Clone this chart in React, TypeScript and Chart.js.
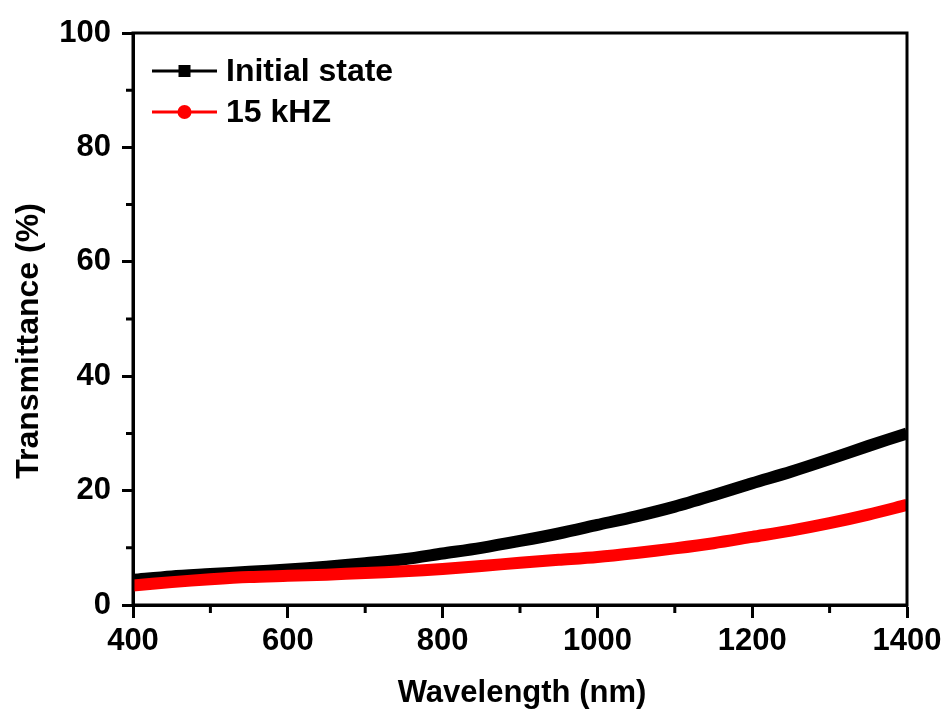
import React, { useEffect, useRef } from "react";
import { Chart, registerables } from "chart.js";

Chart.register(...registerables);

const wavelengths = [400, 450, 500, 550, 600, 650, 700, 750, 800, 850, 900, 950, 1000, 1050, 1100, 1150, 1200, 1250, 1300, 1350, 1400];
const initialState = [4.4, 5.0, 5.4, 5.8, 6.2, 6.7, 7.3, 8.0, 9.0, 10.0, 11.2, 12.5, 14.0, 15.5, 17.2, 19.2, 21.3, 23.3, 25.5, 27.8, 30.0];
const khz15 = [3.4, 4.0, 4.5, 4.9, 5.1, 5.3, 5.6, 5.9, 6.3, 6.8, 7.4, 7.9, 8.4, 9.1, 9.9, 10.8, 11.9, 13.0, 14.3, 15.8, 17.5];
const xMinorTicks = [500, 700, 900, 1100, 1300];
const yMinorTicks = [10, 30, 50, 70, 90];
const seriesNames = ["Initial state", "15 kHZ"];
const seriesColors = ["#000000", "#ff0000"];
const xTitle = "Wavelength (nm)";
const yTitle = "Transmittance (%)";

const FONT = '"Liberation Sans", Arial, sans-serif';

const decorPlugin = {
  id: "decor",
  afterDraw(chart: any) {
    const ctx = chart.ctx;
    const a = chart.chartArea;
    const xs = chart.scales.x;
    const ys = chart.scales.y;
    ctx.save();
    ctx.strokeStyle = "#000";
    ctx.lineWidth = 3;
    ctx.strokeRect(a.left, a.top, a.right - a.left, a.bottom - a.top);
    // minor ticks
    ctx.lineWidth = 3;
    ctx.beginPath();
    xMinorTicks.forEach((v) => {
      const px = xs.getPixelForValue(v);
      ctx.moveTo(px, a.bottom);
      ctx.lineTo(px, a.bottom + 8);
    });
    yMinorTicks.forEach((v) => {
      const py = ys.getPixelForValue(v);
      ctx.moveTo(a.left, py);
      ctx.lineTo(a.left - 7, py);
    });
    ctx.stroke();

    // legend
    const lx0 = a.left + 19;
    const lx1 = a.left + 84;
    const mx = (lx0 + lx1) / 2;
    const rows = [a.top + 38, a.top + 79];
    ctx.font = `bold 32px ${FONT}`;
    ctx.textBaseline = "middle";
    ctx.textAlign = "left";
    rows.forEach((ry, i) => {
      ctx.strokeStyle = seriesColors[i];
      ctx.fillStyle = seriesColors[i];
      ctx.lineWidth = 3;
      ctx.beginPath();
      ctx.moveTo(lx0, ry);
      ctx.lineTo(lx1, ry);
      ctx.stroke();
      if (i === 0) {
        ctx.fillRect(mx - 6, ry - 6, 12, 12);
      } else {
        ctx.beginPath();
        ctx.arc(mx, ry, 7, 0, Math.PI * 2);
        ctx.fill();
      }
      ctx.fillStyle = "#000";
      ctx.fillText(seriesNames[i], a.left + 93, ry + 1);
    });

    // axis titles
    ctx.fillStyle = "#000";
    ctx.font = `bold 31px ${FONT}`;
    ctx.textAlign = "center";
    ctx.textBaseline = "middle";
    ctx.fillText(xTitle, (a.left + a.right) / 2 + 2, 693);
    ctx.font = `bold 32px ${FONT}`;
    ctx.translate(29, 341);
    ctx.rotate(-Math.PI / 2);
    ctx.fillText(yTitle, 0, 0);
    ctx.restore();
  },
};

export default function App() {
  const ref = useRef<HTMLCanvasElement | null>(null);
  useEffect(() => {
    document.body.style.margin = "0";
    const canvas = ref.current!;
    const chart = new Chart(canvas, {
      type: "line",
      data: {
        datasets: [
          {
            label: seriesNames[0],
            data: wavelengths.map((w, i) => ({ x: w, y: initialState[i] })),
            borderColor: seriesColors[0],
            borderWidth: 12,
            pointRadius: 0,
            tension: 0.3,
            order: 1,
            clip: 0,
          },
          {
            label: seriesNames[1],
            data: wavelengths.map((w, i) => ({ x: w, y: khz15[i] })),
            borderColor: seriesColors[1],
            borderWidth: 12,
            pointRadius: 0,
            tension: 0.3,
            order: 0,
            clip: 0,
          },
        ],
      },
      options: {
        responsive: false,
        animation: false,
        layout: { padding: { top: 33, right: 41, left: 0, bottom: 0 } },
        plugins: { legend: { display: false }, tooltip: { enabled: false } },
        scales: {
          x: {
            type: "linear",
            min: 400,
            max: 1400,
            afterFit: (s: any) => {
              s.height = 110;
            },
            ticks: {
              stepSize: 200,
              color: "#000",
              font: { family: FONT, size: 31, weight: "bold" },
              padding: 5,
              maxRotation: 0,
              callback: (v: any) => String(v),
            },
            grid: {
              drawOnChartArea: false,
              tickLength: 13,
              tickWidth: 3,
              tickColor: "#000",
              color: "#000",
            },
            border: { color: "#000", width: 3 },
          },
          y: {
            min: 0,
            max: 100,
            afterFit: (s: any) => {
              s.width = 133;
            },
            ticks: {
              stepSize: 20,
              color: "#000",
              font: { family: FONT, size: 31, weight: "bold" },
              padding: 11,
              callback: (v: any) => String(v),
            },
            grid: {
              drawOnChartArea: false,
              tickLength: 11,
              tickWidth: 3,
              tickColor: "#000",
              color: "#000",
            },
            border: { color: "#000", width: 3 },
          },
        },
      },
      plugins: [decorPlugin],
    });
    return () => chart.destroy();
  }, []);
  return (
    <div style={{ position: "absolute", left: 0, top: 0, width: 948, height: 715, background: "#fff" }}>
      <canvas ref={ref} width={948} height={715} />
    </div>
  );
}
